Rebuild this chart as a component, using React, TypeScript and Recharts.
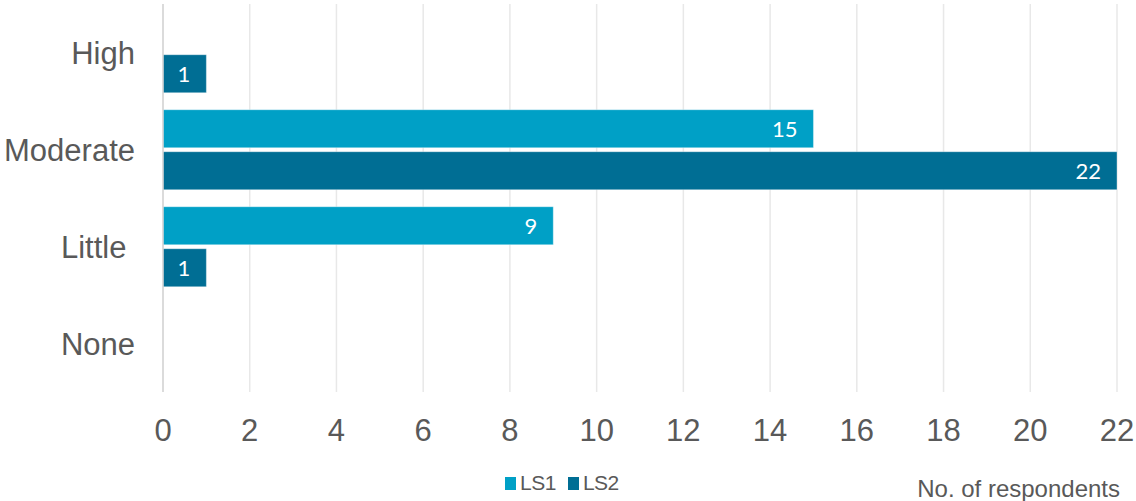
// Respondent ratings by level — LS1 vs LS2, horizontal grouped bars.
import { BarChart, Bar, XAxis, YAxis, CartesianGrid, Legend, LabelList, Label } from "recharts";

const categories = ["High", "Moderate", "Little ", "None"];
const ls1 = [null, 15, 9, null];
const ls2 = [1, 22, 1, null];
const xTicks = [0, 2, 4, 6, 8, 10, 12, 14, 16, 18, 20, 22];

const LS1_COLOR = "#00a0c6";
const LS2_COLOR = "#006e94";
const TEXT = "#595959";
const FONT = "'Liberation Sans', Arial, sans-serif";

const data = categories.map((c, i) => ({ name: c, LS1: ls1[i], LS2: ls2[i] }));

const CategoryTick = ({ x, y, payload }: any) => (
  <text
    x={x}
    y={y}
    dy="0.355em"
    textAnchor="end"
    fill={TEXT}
    fontSize={31}
    fontFamily={FONT}
    style={{ whiteSpace: "pre" }}
  >
    {payload.value}
  </text>
);

const LegendContent = () => (
  <div style={{ display: "flex", gap: 12, fontFamily: FONT, fontSize: 21, color: TEXT, alignItems: "center", letterSpacing: -0.5 }}>
    {[["LS1", LS1_COLOR], ["LS2", LS2_COLOR]].map(([n, c]) => (
      <span key={n} style={{ display: "flex", alignItems: "center", gap: 4 }}>
        <span style={{ width: 11, height: 13, background: c, display: "inline-block" }} />
        {n}
      </span>
    ))}
  </div>
);

const AxisTitle = ({ viewBox }: any) => (
  <text
    x={viewBox.x + viewBox.width + 3}
    y={497}
    textAnchor="end"
    fill={TEXT}
    fontSize={24}
    fontFamily={FONT}
  >
    No. of respondents
  </text>
);

export default function App() {
  return (
    <div style={{ position: "absolute", left: 0, top: 0, width: 1136, height: 501, background: "#fff" }}>
      <BarChart
        width={1136}
        height={501}
        data={data}
        layout="vertical"
        margin={{ top: 4, right: 19, left: 0, bottom: 0 }}
        barCategoryGap="9%"
        barGap={4}
      >
        <CartesianGrid horizontal={false} stroke="#e8e8e8" strokeWidth={1.5} />
        <XAxis
          type="number"
          domain={[0, 22]}
          ticks={xTicks}
          interval={0}
          axisLine={false}
          tickLine={false}
          tickSize={0}
          tickMargin={27}
          height={109}
          tick={{ fill: TEXT, fontSize: 31, fontFamily: FONT }}
        >
          <Label content={AxisTitle} />
        </XAxis>
        <YAxis
          type="category"
          dataKey="name"
          width={163}
          axisLine={{ stroke: "#d4d4d4", strokeWidth: 1.5 }}
          tickLine={false}
          tickSize={0}
          tickMargin={28}
          tick={<CategoryTick />}
        />
        <Legend
          layout="horizontal"
          verticalAlign="middle"
          align="center"
          content={LegendContent}
          wrapperStyle={{ top: 471, left: 505, width: "auto" }}
        />
        <Bar dataKey="LS1" fill={LS1_COLOR} stroke="#ffffff" strokeOpacity={0.35} isAnimationActive={false}>
          <LabelList dataKey="LS1" position="insideRight" offset={16} fill="#ffffff" fontSize={22} fontFamily="Lato, sans-serif" />
        </Bar>
        <Bar dataKey="LS2" fill={LS2_COLOR} stroke="#ffffff" strokeOpacity={0.35} isAnimationActive={false}>
          <LabelList dataKey="LS2" position="insideRight" offset={16} fill="#ffffff" fontSize={22} fontFamily="Lato, sans-serif" />
        </Bar>
      </BarChart>
    </div>
  );
}
